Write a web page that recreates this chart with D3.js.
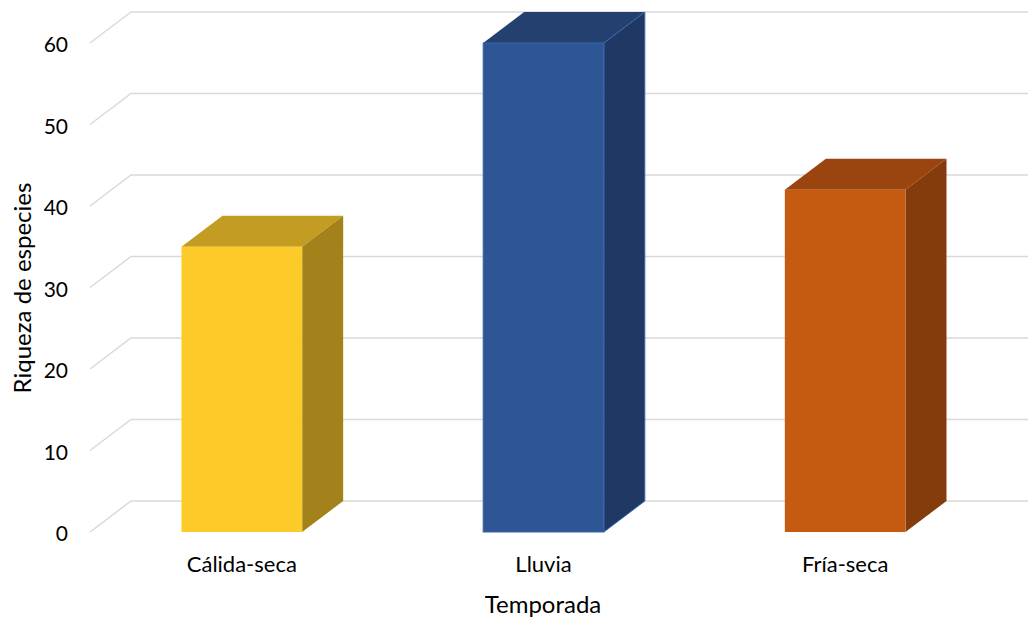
<!DOCTYPE html>
<html>
<head>
<meta charset="utf-8">
<script src="https://cdn.jsdelivr.net/npm/d3@7"></script>
<style>
  body { margin: 0; background: #fff; }
  svg { display: block; font-family: Lato, "Open Sans", sans-serif; }
</style>
</head>
<body>
<svg id="chart" width="1028" height="619"></svg>
<script>
const categories = ["Cálida-seca", "Lluvia", "Fría-seca"];
const values = [35, 60, 42];
const yTicks = [0, 10, 20, 30, 40, 50, 60];

const frontColors = ["#FDCB29", "#2E5594", "#C55A11"];
const topColors = ["#C29D21", "#23406F", "#9A4510"];
const sideColors = ["#A3821B", "#1F3864", "#843C0C"];

const width = 1028;
const height = 619;
const depthX = 41;
const depthY = -31;

const svg = d3.select("#chart");

const xScale = d3.scaleBand()
    .domain(categories)
    .range([91, 996])
    .paddingInner(0.6)
    .paddingOuter(0.3);

const yScale = d3.scaleLinear()
    .domain([0, 60])
    .range([532, 43]);

// gridlines: slant from front wall to back wall, then along the back
svg.append("g")
    .selectAll("path")
    .data(yTicks)
    .join("path")
    .attr("d", function (d) {
        const y = yScale(d);
        return `M90,${y} L${90 + depthX},${y + depthY} L${width},${y + depthY}`;
    })
    .attr("fill", "none")
    .attr("stroke", "#D9D9D9")
    .attr("stroke-width", 1.5);

// y tick labels
svg.append("g")
    .selectAll("text")
    .data(yTicks)
    .join("text")
    .attr("x", 68)
    .attr("y", function (d) { return yScale(d) + 2; })
    .attr("dy", "0.35em")
    .attr("text-anchor", "end")
    .attr("font-size", 21)
    .attr("fill", "#000")
    .text(function (d) { return d; });

// 3D bars
const bars = svg.append("g")
    .selectAll("g")
    .data(categories)
    .join("g");

bars.append("path")
    .attr("d", function (d, i) {
        const x0 = xScale(d), x1 = x0 + xScale.bandwidth();
        const yt = yScale(values[i]);
        return `M${x0},${yt} L${x0 + depthX},${yt + depthY} L${x1 + depthX},${yt + depthY} L${x1},${yt} Z`;
    })
    .attr("fill", function (d, i) { return topColors[i]; });

bars.append("path")
    .attr("d", function (d, i) {
        const x1 = xScale(d) + xScale.bandwidth();
        const yt = yScale(values[i]), yb = yScale(0);
        return `M${x1},${yt} L${x1 + depthX},${yt + depthY} L${x1 + depthX},${yb + depthY} L${x1},${yb} Z`;
    })
    .attr("fill", function (d, i) { return sideColors[i]; })
    .attr("stroke", function (d, i) { return i === 1 ? "#3B65AD" : "none"; })
    .attr("stroke-width", 1);

bars.append("rect")
    .attr("x", function (d) { return xScale(d); })
    .attr("y", function (d, i) { return yScale(values[i]); })
    .attr("width", xScale.bandwidth())
    .attr("height", function (d, i) { return yScale(0) - yScale(values[i]); })
    .attr("fill", function (d, i) { return frontColors[i]; })
    .attr("stroke", function (d, i) { return i === 1 ? "#3B65AD" : "none"; })
    .attr("stroke-width", 1);

// category labels
svg.append("g")
    .selectAll("text")
    .data(categories)
    .join("text")
    .attr("x", function (d) { return xScale(d) + xScale.bandwidth() / 2; })
    .attr("y", 572)
    .attr("text-anchor", "middle")
    .attr("font-size", 22)
    .attr("fill", "#000")
    .text(function (d) { return d; });

// axis titles
svg.append("text")
    .attr("x", 543)
    .attr("y", 613)
    .attr("text-anchor", "middle")
    .attr("font-size", 24)
    .attr("fill", "#000")
    .text("Temporada");

svg.append("text")
    .attr("transform", "translate(31, 288) rotate(-90)")
    .attr("text-anchor", "middle")
    .attr("font-size", 24)
    .attr("fill", "#000")
    .text("Riqueza de especies");
</script>
</body>
</html>
